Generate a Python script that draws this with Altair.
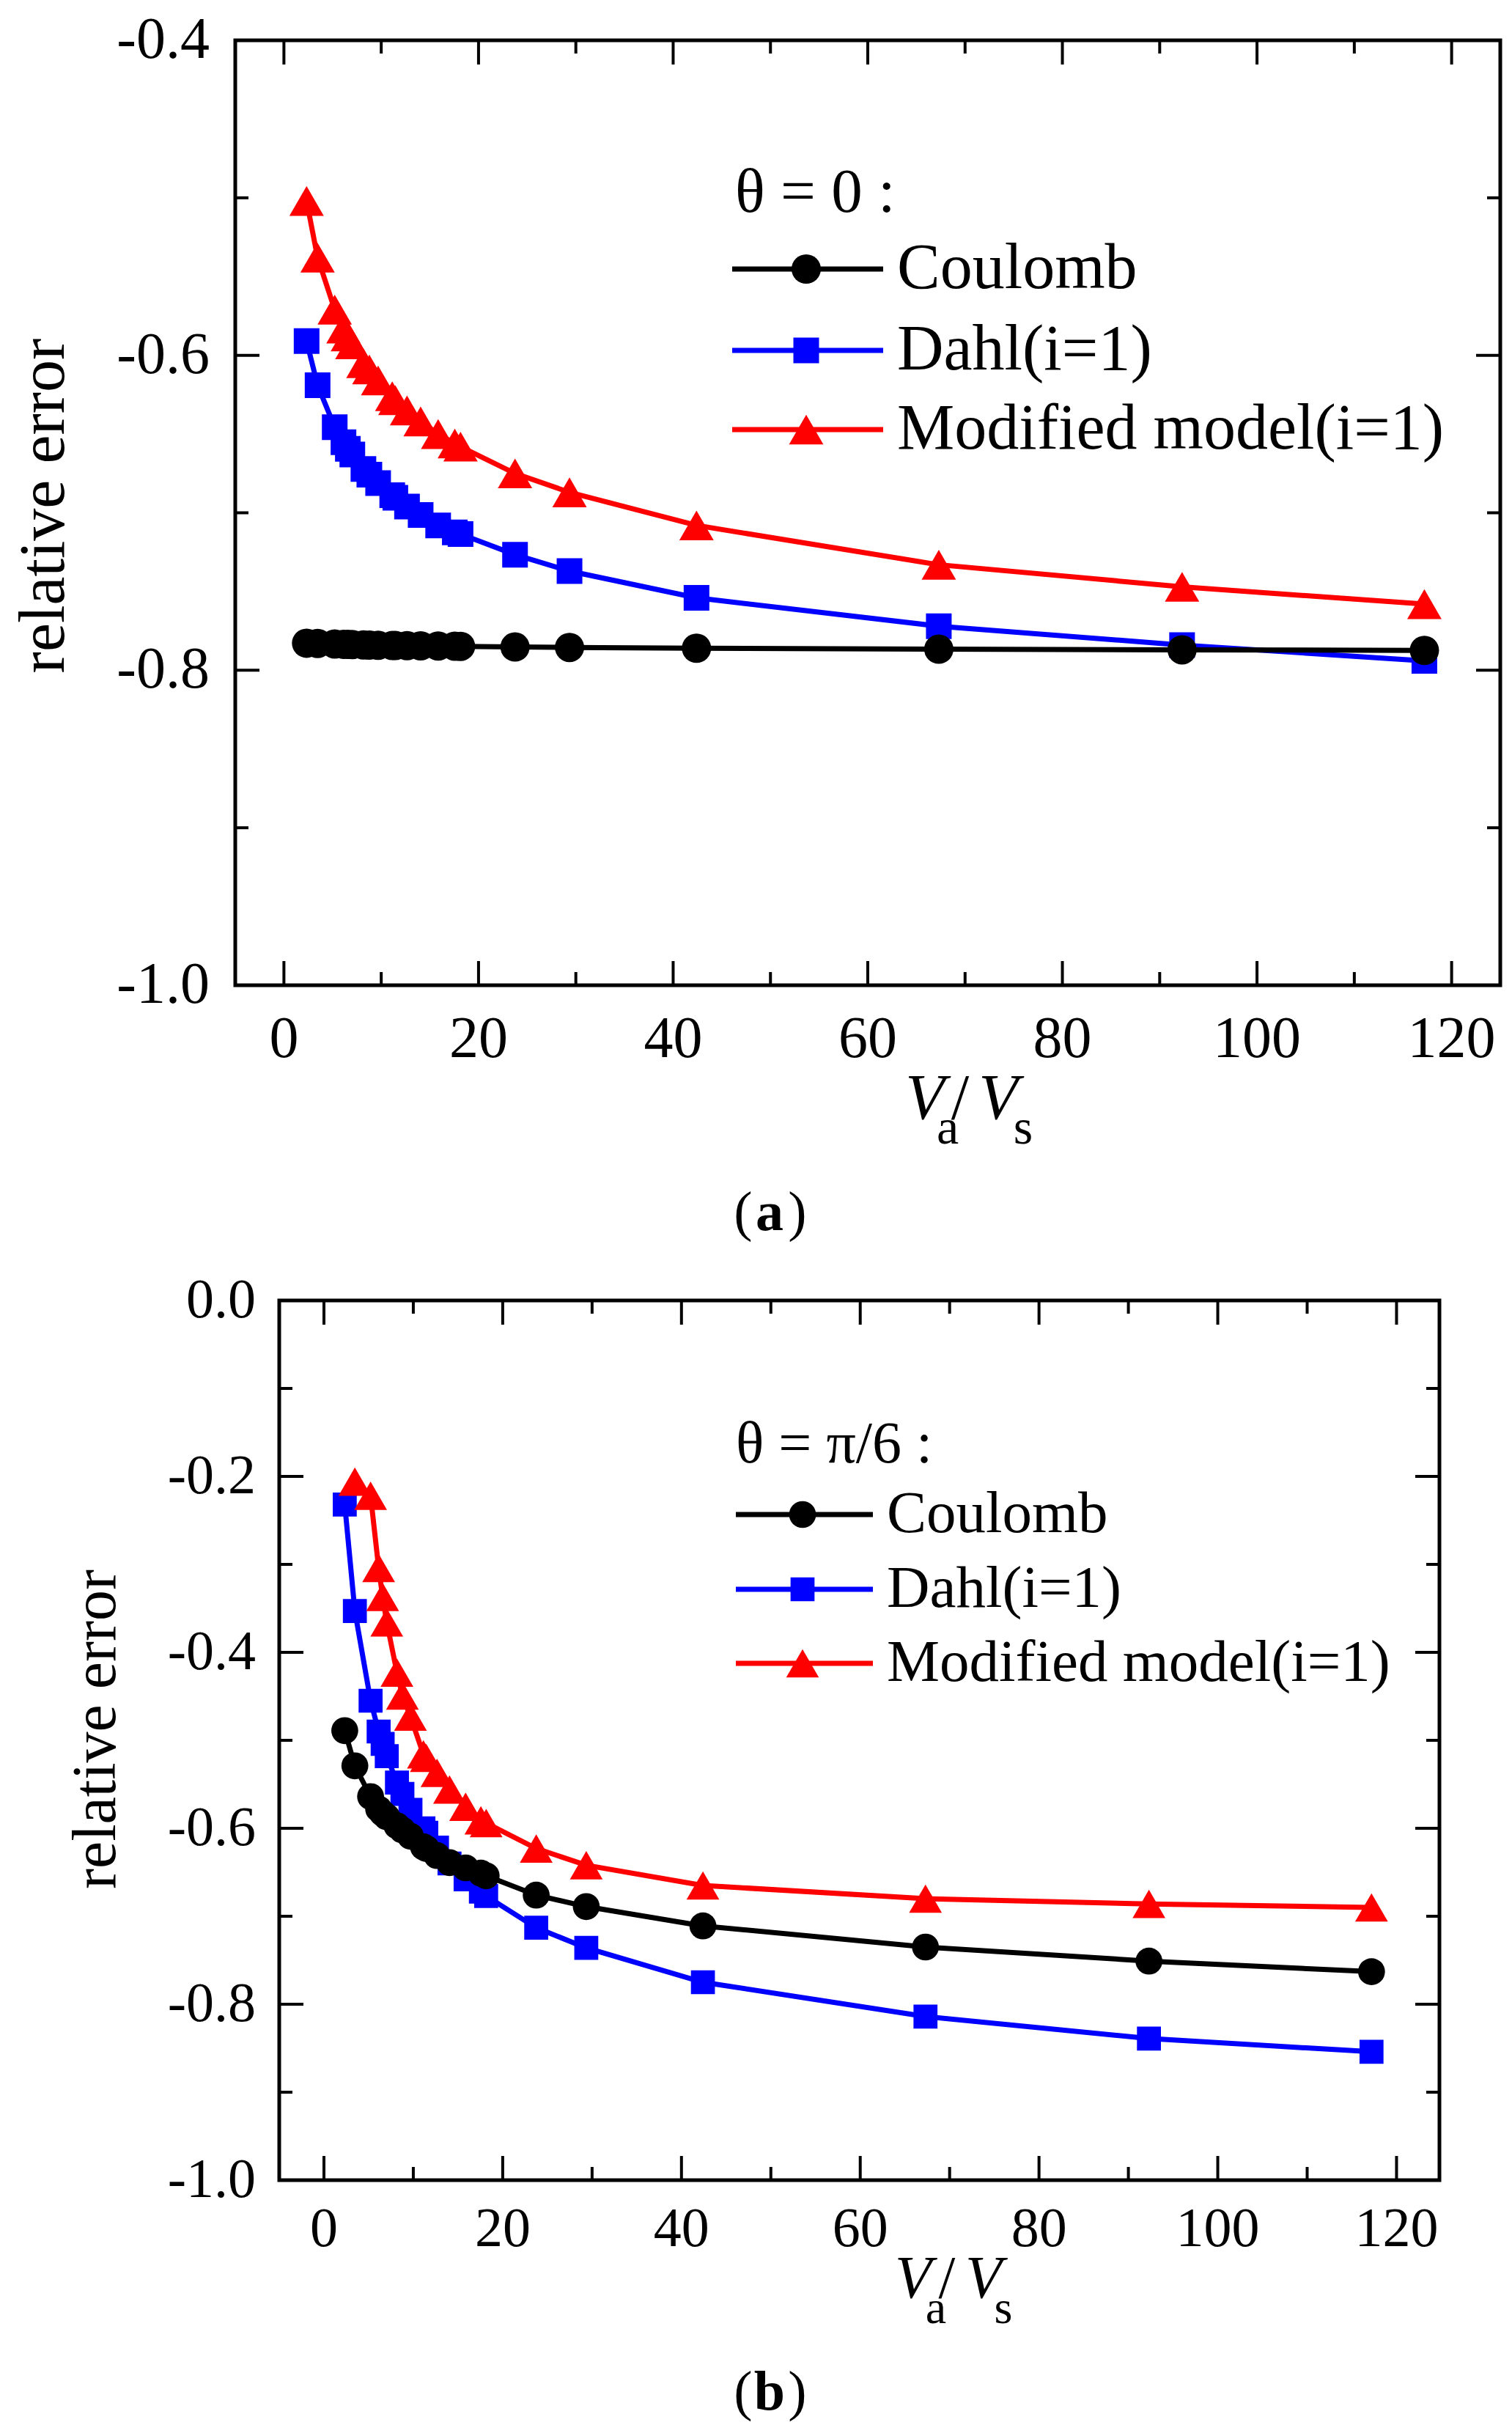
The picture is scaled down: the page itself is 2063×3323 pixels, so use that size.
import altair as alt
import pandas as pd

FONT = "Liberation Serif"

# ---------------- data ----------------
X_VALUES = [2.33, 3.46, 5.22, 6.12, 6.57, 7.03, 8.17, 8.78, 9.68, 11.13, 11.45,
            12.65, 14.05, 15.85, 17.56, 18.15, 23.75, 29.35, 42.4, 67.3, 92.3, 117.2]

# panel (a): theta = 0
COULOMB_A = [-0.7828, -0.7830, -0.7833, -0.7835, -0.7836, -0.7837, -0.7839, -0.7840,
             -0.7841, -0.7843, -0.7843, -0.7844, -0.7845, -0.7846, -0.7847, -0.7848,
             -0.7852, -0.7855, -0.7860, -0.7866, -0.7870, -0.7874]
DAHL_A = [-0.591, -0.619, -0.6456, -0.6552, -0.6594, -0.663, -0.6722, -0.6758, -0.6811,
          -0.6888, -0.6904, -0.696, -0.7014, -0.708, -0.7125, -0.7135, -0.7266, -0.737,
          -0.754, -0.772, -0.784, -0.794]
MODIFIED_A = [-0.502, -0.538, -0.571, -0.583, -0.588, -0.593, -0.605, -0.609, -0.616,
              -0.626, -0.6285, -0.635, -0.642, -0.650, -0.656, -0.658, -0.675, -0.687,
              -0.708, -0.733, -0.747, -0.758]

# panel (b): theta = pi/6
COULOMB_B = [-0.489, -0.529, -0.564, -0.578, -0.583, -0.587, -0.597, -0.602, -0.609,
             -0.621, -0.623, -0.631, -0.639, -0.645, -0.651, -0.654, -0.676, -0.689,
             -0.711, -0.735, -0.751, -0.763]
DAHL_B = [-0.232, -0.353, -0.455, -0.490, -0.504, -0.518, -0.548, -0.561, -0.579,
          -0.600, -0.605, -0.622, -0.640, -0.658, -0.672, -0.677, -0.713, -0.736,
          -0.775, -0.814, -0.839, -0.854]
X_MODIFIED_B = [3.46, 5.22, 6.12, 6.57, 7.03, 8.17, 8.78, 9.68, 11.13, 11.45,
                12.65, 14.05, 15.85, 17.56, 18.15, 23.75, 29.35, 42.4, 67.3, 92.3, 117.2]
MODIFIED_B = [-0.206, -0.222, -0.304, -0.337, -0.366, -0.423, -0.449, -0.473, -0.516,
              -0.520, -0.537, -0.556, -0.5755, -0.591, -0.594, -0.623, -0.642, -0.665,
              -0.680, -0.686, -0.690]

SERIES_NAMES = ["Coulomb", "Dahl(i=1)", "Modified model(i=1)"]
SERIES_COLORS = ["#000000", "#0000ff", "#ff0000"]
SERIES_SHAPES = ["circle", "square", "triangle-up"]

X_MAJOR = [0, 20, 40, 60, 80, 100, 120]
X_LABELS = ["0", "20", "40", "60", "80", "100", "120"]
X_MINOR = [10, 30, 50, 70, 90, 110]
Y_MAJOR_A = [-1.0, -0.8, -0.6, -0.4]
Y_LABELS_A = ["-1.0", "-0.8", "-0.6", "-0.4"]
Y_MINOR_A = [-0.9, -0.7, -0.5]
Y_MAJOR_B = [-1.0, -0.8, -0.6, -0.4, -0.2, 0.0]
Y_LABELS_B = ["-1.0", "-0.8", "-0.6", "-0.4", "-0.2", "0.0"]
Y_MINOR_B = [-0.9, -0.7, -0.5, -0.3, -0.1]

LW = 7
TOTAL_W, TOTAL_H = 2045, 3305


def one():
    return pd.DataFrame({"d": [0]})


def text_layer(txt, x, y, size, align="left", baseline="middle", style=None,
               weight=None, angle=None):
    kw = dict(text=txt, font=FONT, fontSize=size, align=align, baseline=baseline,
              color="black")
    if style:
        kw["fontStyle"] = style
    if weight:
        kw["fontWeight"] = weight
    if angle is not None:
        kw["angle"] = angle
    return alt.Chart(one()).mark_text(**kw).encode(x=alt.value(x), y=alt.value(y))


def panel_layers(cfg):
    ox, oy, W, H = cfg["ox"], cfg["oy"], cfg["w"], cfg["h"]

    def xs():
        return alt.Scale(domain=cfg["xdom"], range=[ox, ox + W], nice=False, zero=False)

    def ys():
        return alt.Scale(domain=cfg["ydom"], range=[oy + H, oy], nice=False, zero=False)

    layers = []

    # frame, drawn through the panel scales
    fr = pd.DataFrame({"x0": [cfg["xdom"][0]], "x1": [cfg["xdom"][1]],
                       "y0": [cfg["ydom"][0]], "y1": [cfg["ydom"][1]]})
    layers.append(alt.Chart(fr).mark_rect(fillOpacity=0, stroke="black", strokeWidth=5).encode(
        x=alt.X("x0:Q", scale=xs(), axis=None), x2="x1:Q",
        y=alt.Y("y0:Q", scale=ys(), axis=None), y2="y1:Q"))

    # tick labels
    xl = pd.DataFrame({"v": X_MAJOR, "t": X_LABELS})
    layers.append(alt.Chart(xl).mark_text(
        font=FONT, fontSize=cfg["tick_fs"], align="center", baseline="middle", color="black"
    ).encode(x=alt.X("v:Q", scale=xs(), axis=None), y=alt.value(oy + H + cfg["xlab_dy"]), text="t:N"))
    yl = pd.DataFrame({"v": cfg["ymaj"], "t": cfg["ylab"]})
    layers.append(alt.Chart(yl).mark_text(
        font=FONT, fontSize=cfg["tick_fs"], align="right", baseline="middle", color="black"
    ).encode(y=alt.Y("v:Q", scale=ys(), axis=None), x=alt.value(ox - cfg["ylab_dx"]), text="t:N"))

    # inward ticks on all four sides
    LMAJ, LMIN = 33, 18
    for vals, ln in ((X_MAJOR, LMAJ), (X_MINOR, LMIN)):
        base = alt.Chart(pd.DataFrame({"v": vals})).mark_rule(color="black", strokeWidth=4)
        layers.append(base.encode(x=alt.X("v:Q", scale=xs(), axis=None),
                                  y=alt.value(oy + H), y2=alt.value(oy + H - ln)))
        layers.append(base.encode(x=alt.X("v:Q", scale=xs(), axis=None),
                                  y=alt.value(oy), y2=alt.value(oy + ln)))
    for vals, ln in ((cfg["ymaj"], LMAJ), (cfg["ymin"], LMIN)):
        base = alt.Chart(pd.DataFrame({"v": vals})).mark_rule(color="black", strokeWidth=4)
        layers.append(base.encode(y=alt.Y("v:Q", scale=ys(), axis=None),
                                  x=alt.value(ox), x2=alt.value(ox + ln)))
        layers.append(base.encode(y=alt.Y("v:Q", scale=ys(), axis=None),
                                  x=alt.value(ox + W), x2=alt.value(ox + W - ln)))

    # data series (blue, red, black drawing order)
    for idx in (1, 2, 0):
        xv, yv = cfg["series"][idx]
        df = pd.DataFrame({"x": xv, "y": yv})
        layers.append(alt.Chart(df).mark_line(color=SERIES_COLORS[idx], strokeWidth=LW).encode(
            x=alt.X("x:Q", scale=xs(), axis=None), y=alt.Y("y:Q", scale=ys(), axis=None)))
        layers.append(alt.Chart(df).mark_point(
            filled=True, shape=SERIES_SHAPES[idx], size=cfg["msize"][idx],
            color=SERIES_COLORS[idx], opacity=1, strokeWidth=0).encode(
            x=alt.X("x:Q", scale=xs(), axis=None), y=alt.Y("y:Q", scale=ys(), axis=None)))

    # legend
    lg = cfg["legend"]
    layers.append(text_layer(cfg["theta"], ox + lg["xt0"], oy + lg["ty"], lg["tfs"]))
    for i in range(3):
        y = oy + lg["rows"][i]
        layers.append(alt.Chart(one()).mark_rule(color=SERIES_COLORS[i], strokeWidth=LW).encode(
            x=alt.value(ox + lg["x0"]), x2=alt.value(ox + lg["x1"]), y=alt.value(y)))
        layers.append(alt.Chart(one()).mark_point(
            filled=True, shape=SERIES_SHAPES[i], size=cfg["msize"][i],
            color=SERIES_COLORS[i], opacity=1, strokeWidth=0).encode(
            x=alt.value(ox + lg["xm"]), y=alt.value(y)))
        layers.append(text_layer(SERIES_NAMES[i], ox + lg["xt"], y, lg["fs"]))

    # y title
    yt = cfg["ytitle"]
    layers.append(text_layer("relative error", ox + yt["x"], oy + yt["y"], yt["fs"],
                             align="center", baseline="alphabetic", angle=270))
    # x title V_a/V_s
    xt = cfg["xtitle"]
    vy, sy = oy + xt["vy"], oy + xt["sy"]
    layers.append(text_layer("V", ox + xt["v1"], vy, xt["fs"], align="center", style="italic"))
    layers.append(text_layer("a", ox + xt["a"], sy, xt["sfs"], align="center"))
    layers.append(text_layer("/", ox + xt["sl"], vy, xt["fs"], align="center"))
    layers.append(text_layer("V", ox + xt["v2"], vy, xt["fs"], align="center", style="italic"))
    layers.append(text_layer("s", ox + xt["s"], sy, xt["sfs"], align="center"))

    # panel label
    pl = cfg["plabel"]
    px, py = ox + pl["x"], oy + pl["y"]
    layers.append(text_layer("(", px - pl["dl"], py, pl["fs"], align="center"))
    layers.append(text_layer(cfg["letter"], px, py, pl["fs"], align="center", weight="bold"))
    layers.append(text_layer(")", px + pl["dr"], py, pl["fs"], align="center"))
    return layers


cfg_a = dict(
    ox=313, oy=47, w=1726, h=1289, xdom=[-5, 125], ydom=[-1.0, -0.4],
    ymaj=Y_MAJOR_A, ylab=Y_LABELS_A, ymin=Y_MINOR_A, tick_fs=80, xlab_dy=74, ylab_dx=35,
    series=[(X_VALUES, COULOMB_A), (X_VALUES, DAHL_A), (X_VALUES, MODIFIED_A)],
    msize=[1600, 1225, 2200],
    theta="θ = 0 :",
    legend=dict(xt0=682, ty=208, x0=678, x1=884, xm=779, xt=903, rows=[312, 423, 531],
                fs=88, tfs=85),
    ytitle=dict(x=-234, y=635, fs=88),
    xtitle=dict(v1=941, a=972, sl=989, v2=1041, s=1075, vy=1445, sy=1485, fs=88, sfs=68),
    letter="a",
    plabel=dict(x=729, y=1600, fs=76, dl=36, dr=38),
)

cfg_b = dict(
    ox=373, oy=1766, w=1583, h=1200, xdom=[-5, 124.8], ydom=[-1.0, 0.0],
    ymaj=Y_MAJOR_B, ylab=Y_LABELS_B, ymin=Y_MINOR_B, tick_fs=76, xlab_dy=67, ylab_dx=32,
    series=[(X_VALUES, COULOMB_B), (X_VALUES, DAHL_B), (X_MODIFIED_B, MODIFIED_B)],
    msize=[1350, 1070, 2000],
    theta="θ = π/6 :",
    legend=dict(xt0=623, ty=197, x0=623, x1=810, xm=714, xt=829, rows=[292, 394, 495],
                fs=81, tfs=80),
    ytitle=dict(x=-224, y=585, fs=84),
    xtitle=dict(v1=865, a=896, sl=911, v2=961, s=988, vy=1335, sy=1376, fs=82, sfs=64),
    letter="b",
    plabel=dict(x=669, y=1490, fs=76, dl=36, dr=38),
)

chart = alt.layer(*(panel_layers(cfg_a) + panel_layers(cfg_b))).resolve_scale(
    x="independent", y="independent"
).properties(width=TOTAL_W, height=TOTAL_H, padding=0).configure_view(stroke=None)

chart.save("out.html", embed_options={"renderer": "svg", "actions": False})
